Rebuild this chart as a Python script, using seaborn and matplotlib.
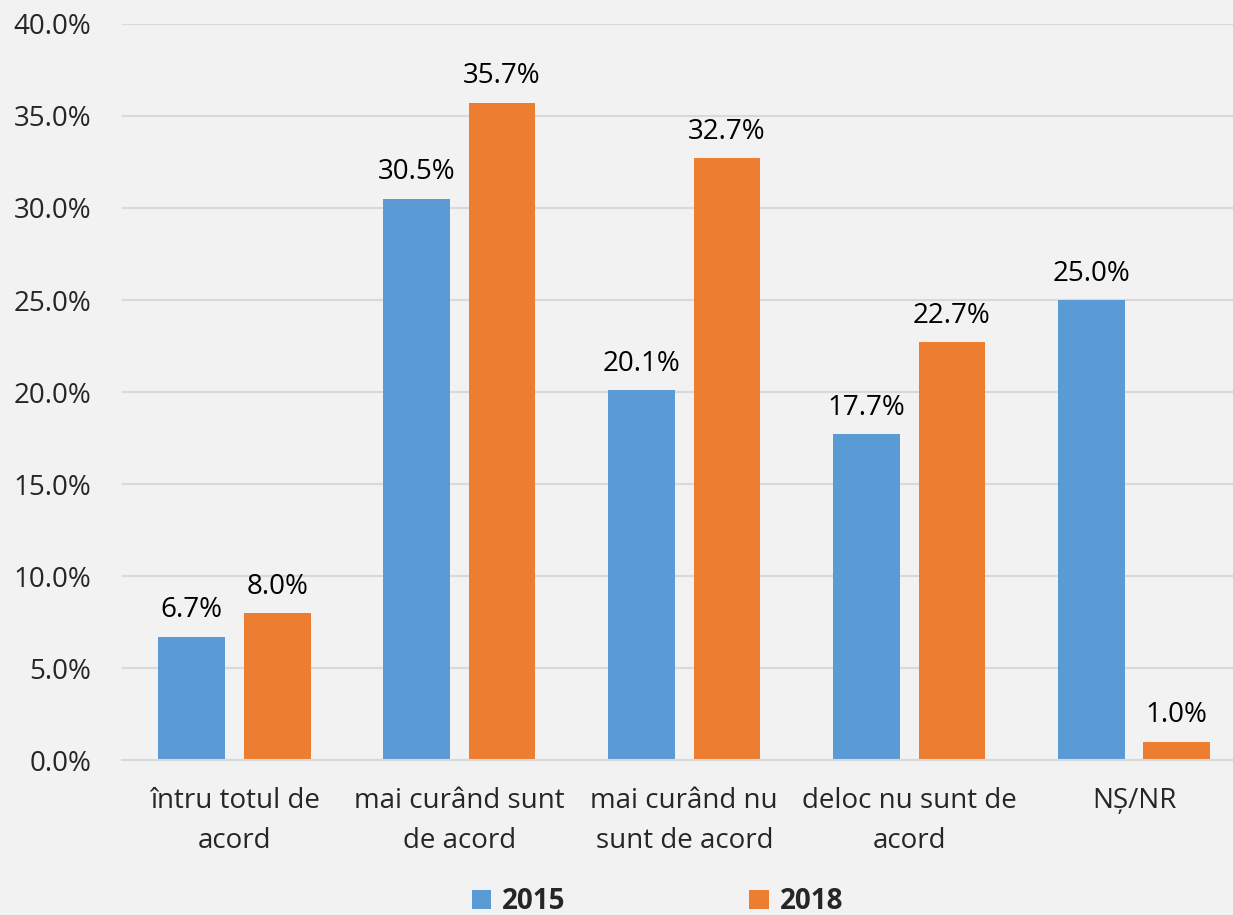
import matplotlib.pyplot as plt
import seaborn as sns
import pandas as pd

categories = ["întru totul de\nacord", "mai curând sunt\nde acord", "mai curând nu\nsunt de acord",
              "deloc nu sunt de\nacord", "NȘ/NR"]
years = ["2015", "2018"]
values_2015 = [6.7, 30.5, 20.1, 17.7, 25.0]
values_2018 = [8.0, 35.7, 32.7, 22.7, 1.0]
colors = ["#5B9BD5", "#ED7D31"]

df = pd.DataFrame({
    "cat": categories * 2,
    "year": [years[0]] * 5 + [years[1]] * 5,
    "val": values_2015 + values_2018,
})

sns.set_style("white")
plt.rcParams["font.family"] = ["Open Sans", "DejaVu Sans"]
bg = "#F2F2F2"
fs = 20

fig, ax = plt.subplots(figsize=(12.33, 9.15), dpi=100)
fig.patch.set_facecolor(bg)
ax.set_facecolor(bg)

sns.barplot(data=df, x="cat", y="val", hue="year", palette=colors,
            width=0.76, gap=0.22, saturation=1, linewidth=0, ax=ax, legend=True)

for cont in ax.containers:
    ax.bar_label(cont, labels=[f"{v:.1f}%" for v in cont.datavalues],
                 padding=9, fontsize=fs, color="black")

ax.set_ylim(0, 40)
ax.set_yticks(range(0, 41, 5))
ax.set_yticklabels([f"{t:.1f}%" for t in range(0, 41, 5)], fontsize=fs)
ax.set_xlim(-0.5, 4.44)
ax.set_xticks(range(5))
ax.set_xticklabels(categories, fontsize=fs, linespacing=1.6)
ax.tick_params(axis="x", length=0, pad=19)
ax.tick_params(axis="y", length=0, pad=22)
ax.set_xlabel("")
ax.set_ylabel("")
ax.grid(axis="y", color="#D9D9D9", linewidth=1.5)
ax.set_axisbelow(True)
for s in ["top", "right", "left"]:
    ax.spines[s].set_visible(False)
ax.spines["bottom"].set_color("#D9D9D9")
ax.spines["bottom"].set_linewidth(1.5)

handles, labels = ax.get_legend_handles_labels()
ax.legend(handles, labels, loc="center", bbox_to_anchor=(0.482, -0.192),
          ncol=2, frameon=False, handlelength=0.7, handleheight=0.7,
          columnspacing=6.6, handletextpad=0.4, prop={"weight": "bold", "size": fs})

plt.subplots_adjust(left=0.099, right=1.0, top=0.974, bottom=0.169)
plt.savefig("out.png", dpi=100, facecolor=bg)
